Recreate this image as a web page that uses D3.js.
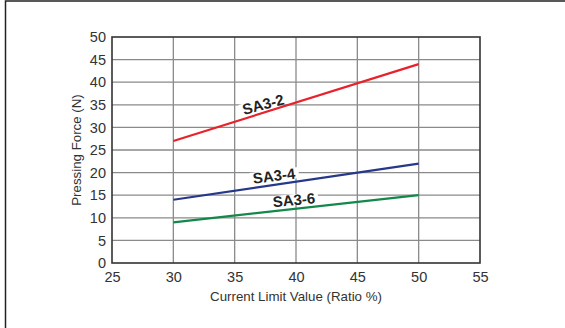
<!DOCTYPE html>
<html lang="en">
<head>
  <meta charset="UTF-8">
  <title>Pressing Force vs Current Limit</title>
  <script src="https://d3js.org/d3.v7.min.js"></script>
  <style>
    body { margin: 0; background: #fff; }
    text { font-family: "Liberation Sans", Arial, sans-serif; }
  </style>
</head>
<body>
  <script>
    // data
    const series = ["SA3-2", "SA3-4", "SA3-6"];
    const currentLimit = [30, 50];
    const force_SA3_2 = [27, 44];
    const force_SA3_4 = [14, 22];
    const force_SA3_6 = [9, 15];
    const labelAt = [37.5, 38.3, 39.9];   // x value where each label sits
    const xTicks = [25, 30, 35, 40, 45, 50, 55];
    const yTicks = [0, 5, 10, 15, 20, 25, 30, 35, 40, 45, 50];

    const colors = ["#e8212b", "#27378a", "#13884a"];
    const labelLift = [8, 9, 9];
    const values = [force_SA3_2, force_SA3_4, force_SA3_6];

    const width = 565, height = 328;
    const margin = { top: 37, right: 85, bottom: 65, left: 112 };

    const svg = d3.select("body").append("svg")
      .attr("width", width)
      .attr("height", height);

    // outer frame (left + top)
    svg.append("path")
      .attr("d", `M5.5,${height} V1 H${width}`)
      .attr("fill", "none")
      .attr("stroke", "#222")
      .attr("stroke-width", 1.5);

    const x = d3.scaleLinear().domain([25, 55]).range([margin.left, width - margin.right]);
    const y = d3.scaleLinear().domain([0, 50]).range([height - margin.bottom, margin.top]);

    // grid
    svg.append("g").attr("stroke", "#8a8a8a").attr("stroke-width", 1.3)
      .selectAll("line").data(xTicks.slice(1, -1)).join("line")
      .attr("x1", d => x(d)).attr("x2", d => x(d))
      .attr("y1", y(50)).attr("y2", y(0));
    svg.append("g").attr("stroke", "#8a8a8a").attr("stroke-width", 1.3)
      .selectAll("line").data(yTicks.slice(1, -1)).join("line")
      .attr("y1", d => y(d)).attr("y2", d => y(d))
      .attr("x1", x(25)).attr("x2", x(55));

    // plot box
    svg.append("rect")
      .attr("x", x(25)).attr("y", y(50))
      .attr("width", x(55) - x(25)).attr("height", y(0) - y(50))
      .attr("fill", "none").attr("stroke", "#333").attr("stroke-width", 1.6);

    // axes (labels only)
    const xAxis = svg.append("g")
      .attr("transform", `translate(0,${y(0)})`)
      .call(d3.axisBottom(x).tickValues(xTicks).tickSize(0).tickPadding(9));
    const yAxis = svg.append("g")
      .attr("transform", `translate(${x(25)},0)`)
      .call(d3.axisLeft(y).tickValues(yTicks).tickSize(0).tickPadding(6));
    [xAxis, yAxis].forEach(a => {
      a.select(".domain").remove();
      a.selectAll("text").attr("font-size", 14.5).attr("fill", "#333")
        .attr("font-family", "Liberation Sans, Arial, sans-serif");
    });

    svg.append("text")
      .attr("x", (x(25) + x(55)) / 2).attr("y", 301)
      .attr("text-anchor", "middle").attr("font-size", 13.3).attr("fill", "#333")
      .text("Current Limit Value (Ratio %)");
    svg.append("text")
      .attr("transform", `translate(81,${(y(0) + y(50)) / 2}) rotate(-90)`)
      .attr("text-anchor", "middle").attr("font-size", 13.3).attr("fill", "#333")
      .text("Pressing Force (N)");

    // lines
    const line = d3.line().x((d, i) => x(currentLimit[i])).y(d => y(d));
    svg.append("g").selectAll("path").data(values).join("path")
      .attr("d", line)
      .attr("fill", "none")
      .attr("stroke", (d, i) => colors[i])
      .attr("stroke-width", 2.2);

    // line labels with white boxes
    series.forEach((name, i) => {
      const v = values[i];
      const t = (labelAt[i] - currentLimit[0]) / (currentLimit[1] - currentLimit[0]);
      const lx = x(labelAt[i]);
      const ly = y(v[0] + t * (v[1] - v[0]));
      const ang = Math.atan2(y(v[1]) - y(v[0]), x(currentLimit[1]) - x(currentLimit[0])) * 180 / Math.PI * 0.85;
      const g = svg.append("g")
        .attr("transform", `translate(${lx},${ly}) rotate(${ang}) translate(0,${-labelLift[i]})`);
      const txt = g.append("text")
        .attr("text-anchor", "middle").attr("dy", "0.35em")
        .attr("font-size", 15).attr("font-weight", "bold").attr("fill", "#222")
        .text(name);
      const bb = txt.node().getBBox();
      g.insert("rect", "text")
        .attr("x", bb.x - 3).attr("y", bb.y + 3)
        .attr("width", bb.width + 6).attr("height", bb.height - 6)
        .attr("fill", "#fff");
    });
  </script>
</body>
</html>
